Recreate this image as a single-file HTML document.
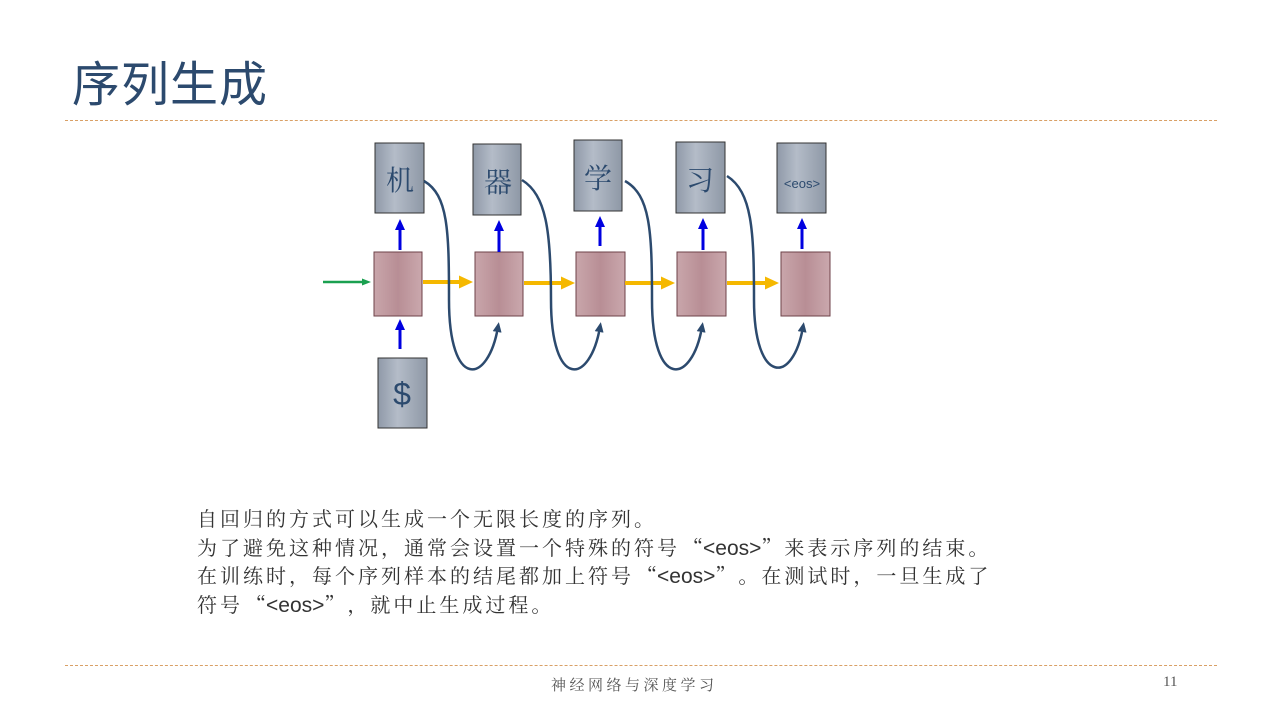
<!DOCTYPE html>
<html><head><meta charset="utf-8"><style>
body{margin:0;width:1280px;height:720px;background:#fff;position:relative;overflow:hidden;font-family:"Liberation Sans","Noto Sans CJK SC",sans-serif}
.t{position:absolute;left:72px;top:56px;font-size:48px;letter-spacing:1px;color:#2c4a6e;line-height:60px}
.d{position:absolute;left:65px;width:1152px;border-top:1.5px dashed #d9a066}
.p{position:absolute;left:197px;top:506px;font-family:"Liberation Sans","Noto Serif CJK SC",serif;font-size:20px;letter-spacing:3px;color:#333;white-space:nowrap}
.p div{height:28.7px;line-height:28px}
.p span{letter-spacing:0;font-size:21px;line-height:1}
.p i{font-style:normal;font-family:"Noto Serif CJK SC",serif;display:inline-block;width:23px;letter-spacing:0;line-height:1;height:20px}
.p i.o{text-align:right}
.f{position:absolute;top:674px;font-family:"Liberation Serif","Noto Serif CJK SC",serif;font-size:15px;color:#555}
</style></head><body>
<div class="t">序列生成</div>
<div class="d" style="top:120px"></div>
<div class="d" style="top:665px"></div>
<svg width="1280" height="720" style="position:absolute;left:0;top:0">
<defs>
<linearGradient id="g" x1="0" x2="1"><stop offset="0" stop-color="#8f99a8"/><stop offset="0.4" stop-color="#b4bcc8"/><stop offset="1" stop-color="#8e98a6"/></linearGradient>
<linearGradient id="r" x1="0" x2="1"><stop offset="0" stop-color="#c9a6ab"/><stop offset="0.5" stop-color="#b88e95"/><stop offset="1" stop-color="#caa8ad"/></linearGradient>
<marker id="ab" markerUnits="userSpaceOnUse" markerWidth="14" markerHeight="14" refX="6" refY="7" orient="auto"><path d="M0,2L11,7L0,12z" fill="#0000e0"/></marker>
<marker id="ay" markerUnits="userSpaceOnUse" markerWidth="16" markerHeight="16" refX="7" refY="8" orient="auto"><path d="M0,1.5L14,8L0,14.5z" fill="#f5b800"/></marker>
<marker id="ag" markerUnits="userSpaceOnUse" markerWidth="10" markerHeight="10" refX="5" refY="5" orient="auto"><path d="M0,1.5L9,5L0,8.5z" fill="#1aa050"/></marker>
<marker id="ad" markerUnits="userSpaceOnUse" markerWidth="12" markerHeight="12" refX="5" refY="6" orient="auto"><path d="M0,1.5L10,6L0,10.5z" fill="#2c4a6e"/></marker>
</defs>
<g stroke="#333" stroke-width="1">
<rect x="375" y="143" width="49" height="70" fill="url(#g)"/>
<rect x="473" y="144" width="48" height="71" fill="url(#g)"/>
<rect x="574" y="140" width="48" height="71" fill="url(#g)"/>
<rect x="676" y="142" width="49" height="71" fill="url(#g)"/>
<rect x="777" y="143" width="49" height="70" fill="url(#g)"/>
<rect x="378" y="358" width="49" height="70" fill="url(#g)"/>
</g>
<g stroke="#6e4248" stroke-width="1" fill="url(#r)">
<rect x="374" y="252" width="48" height="64"/>
<rect x="475" y="252" width="48" height="64"/>
<rect x="576" y="252" width="49" height="64"/>
<rect x="677" y="252" width="49" height="64"/>
<rect x="781" y="252" width="49" height="64"/>
</g>
<g fill="#2c4a6e" font-family="Liberation Serif,'Noto Serif CJK SC',serif" font-size="28" text-anchor="middle">
<text x="400" y="190">机</text><text x="498" y="192">器</text><text x="598" y="188">学</text><text x="700" y="190">习</text>
<text x="802" y="188" font-family="Liberation Sans,sans-serif" font-size="13">&lt;eos&gt;</text>
<text x="402" y="405" font-family="Liberation Sans,sans-serif" font-size="32">$</text>
</g>
<g stroke="#0000e0" stroke-width="3" marker-end="url(#ab)">
<line x1="400" y1="250" x2="400" y2="224"/><line x1="499" y1="252" x2="499" y2="225"/>
<line x1="600" y1="246" x2="600" y2="221"/><line x1="703" y1="250" x2="703" y2="223"/>
<line x1="802" y1="249" x2="802" y2="223"/><line x1="400" y1="349" x2="400" y2="324"/>
</g>
<g stroke="#f5b800" stroke-width="4" marker-end="url(#ay)">
<line x1="423" y1="282" x2="466" y2="282"/><line x1="524" y1="283" x2="568" y2="283"/>
<line x1="625" y1="283" x2="668" y2="283"/><line x1="727" y1="283" x2="772" y2="283"/>
</g>
<line x1="323" y1="282" x2="367" y2="282" stroke="#1aa050" stroke-width="2.5" marker-end="url(#ag)"/>
<g stroke="#2c4a6e" stroke-width="2.5" fill="none" marker-end="url(#ad)">
<path d="M424,181 C448,195 449,230 449,300 C449,390 488,385 498,327"/>
<path d="M522,180 C546,195 551,230 551,300 C551,390 590,385 600,327"/>
<path d="M625,181 C650,195 652,230 652,300 C652,390 692,385 702,327"/>
<path d="M727,176 C752,192 754,230 754,300 C754,385 793,385 803,327"/>
</g>
</svg>
<div class="p"><div>自回归的方式可以生成一个无限长度的序列。</div><div>为了避免这种情况，通常会设置一个特殊的符号<i class="o">“</i><span>&lt;eos&gt;</span><i>”</i>来表示序列的结束。</div><div>在训练时，每个序列样本的结尾都加上符号<i class="o">“</i><span>&lt;eos&gt;</span><i>”</i>。在测试时，一旦生成了</div><div>符号<i class="o">“</i><span>&lt;eos&gt;</span><i>”</i>，就中止生成过程。</div></div>
<div class="f" style="left:551px;letter-spacing:3.5px">神经网络与深度学习</div>
<div class="f" style="left:1163px">11</div>
</body></html>
